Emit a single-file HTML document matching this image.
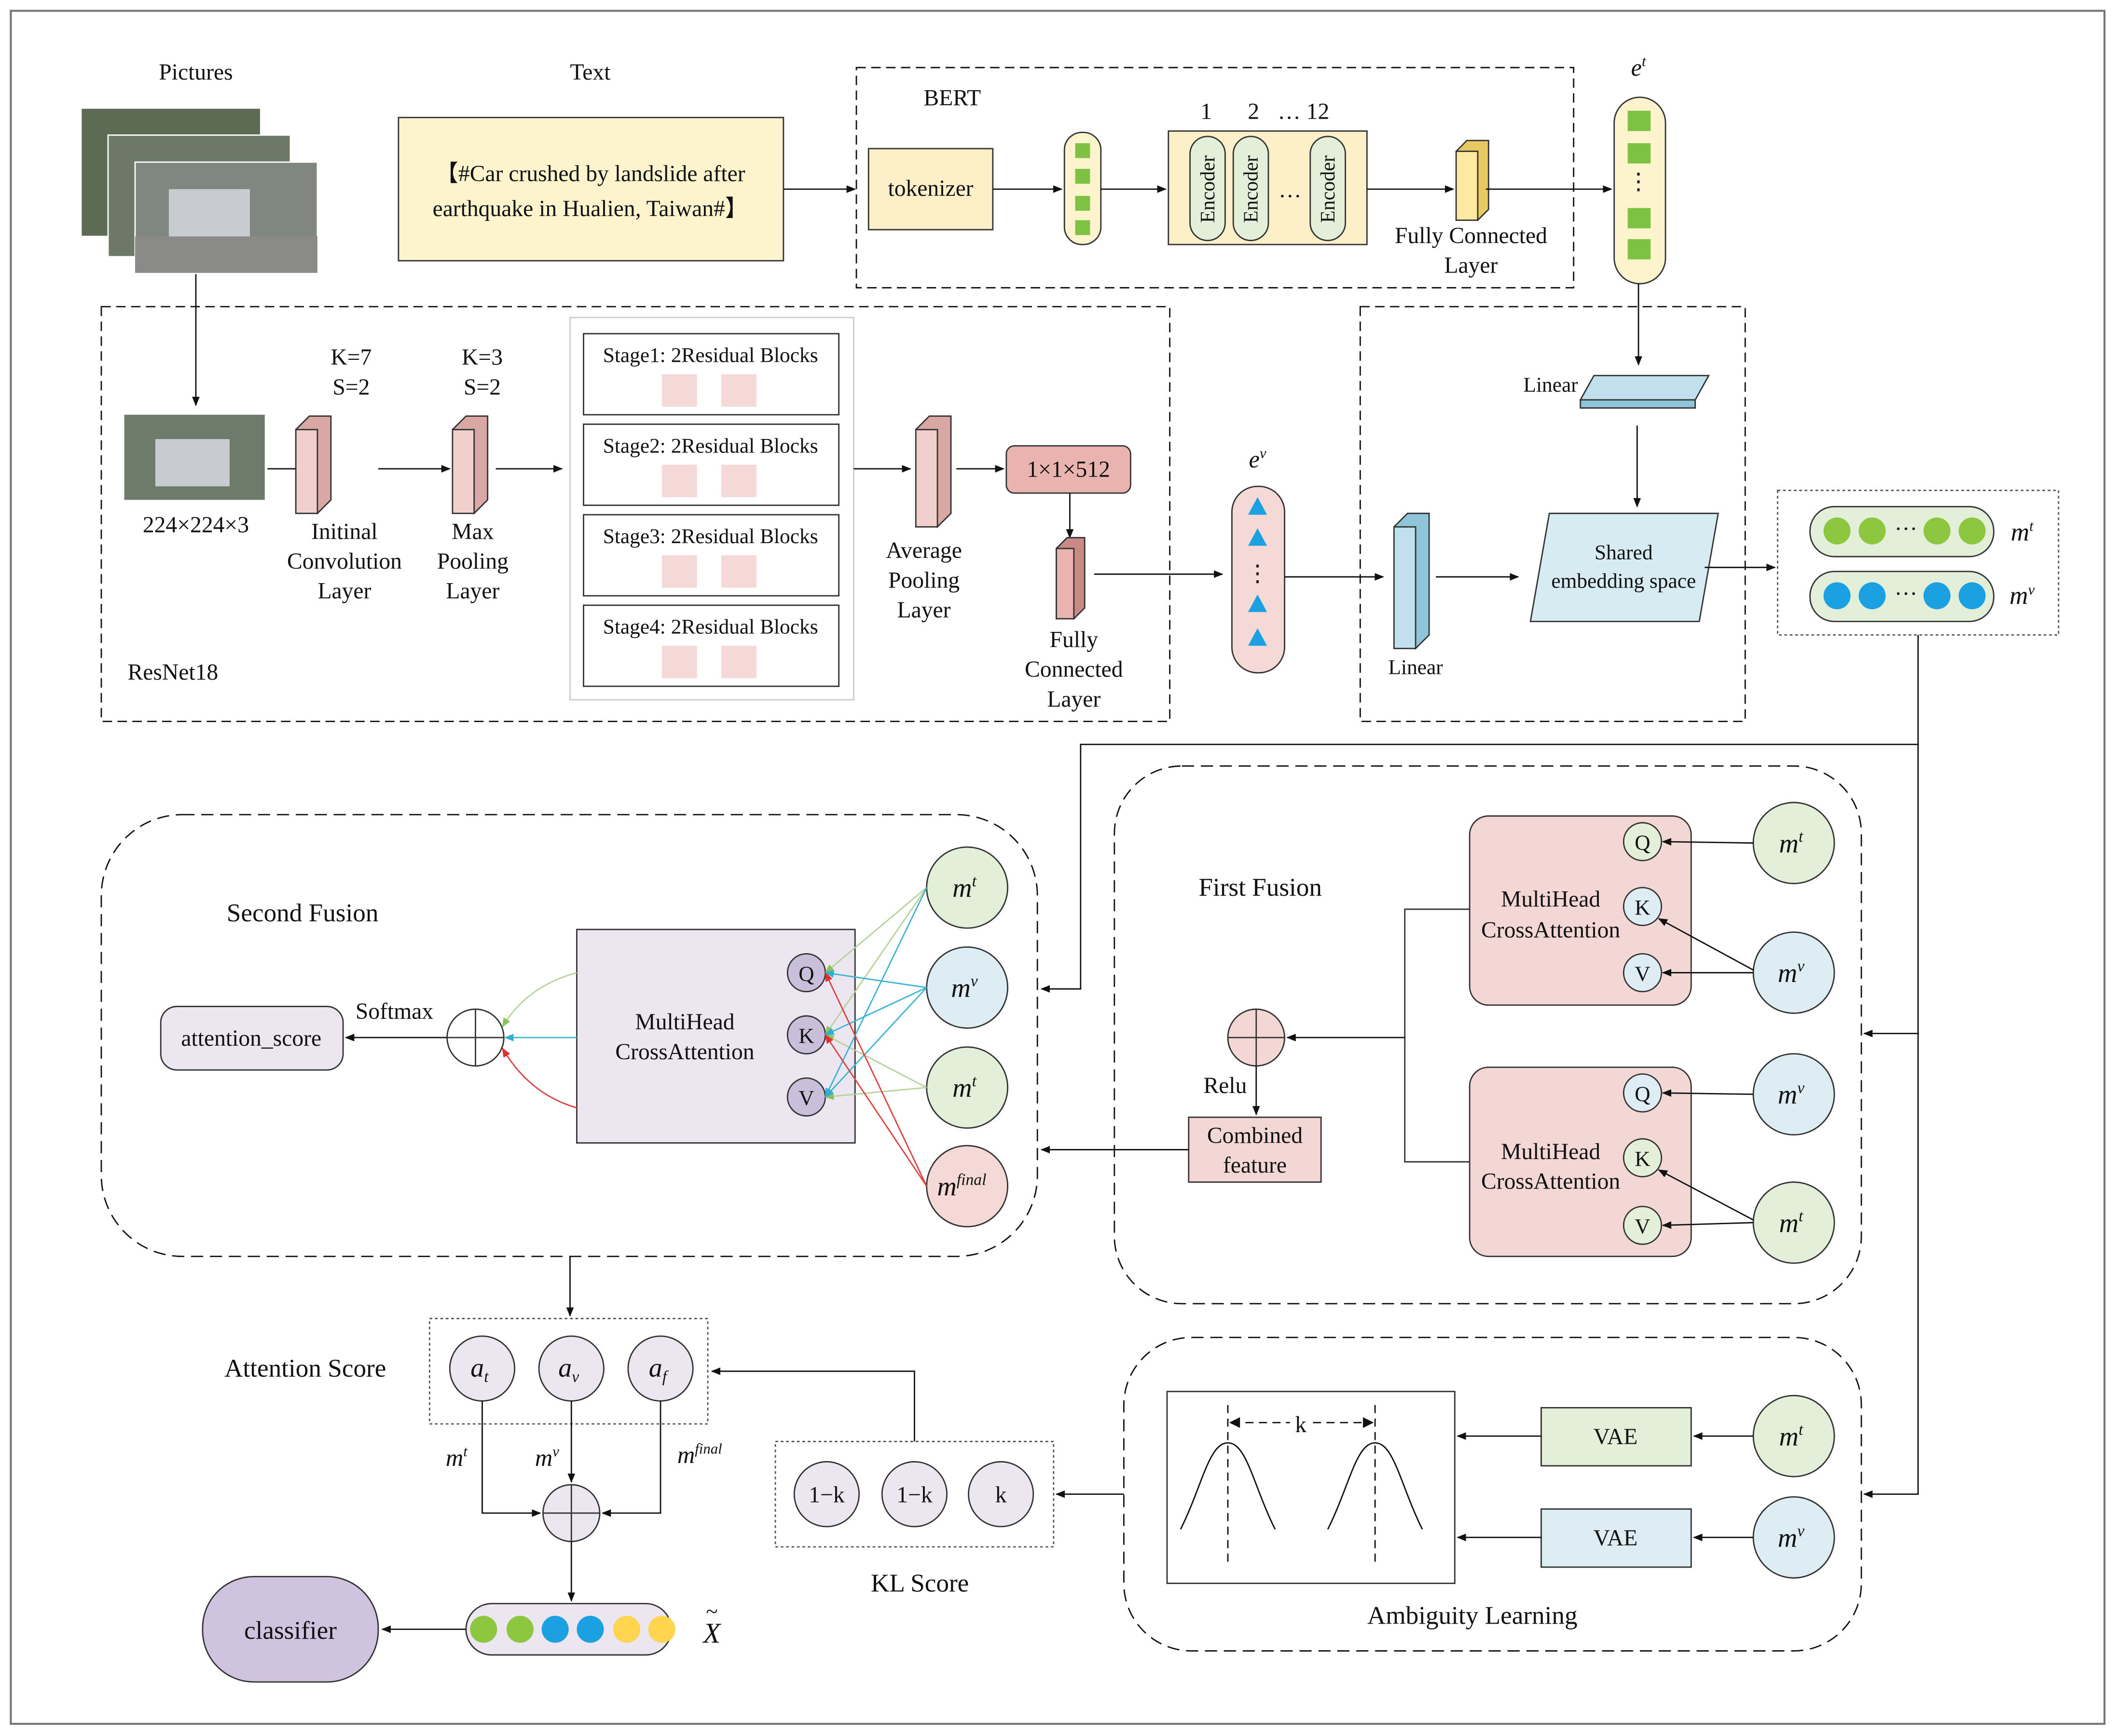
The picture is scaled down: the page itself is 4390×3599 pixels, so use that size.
<!DOCTYPE html>
<html><head><meta charset="utf-8"><style>
html,body{margin:0;padding:0;background:#fff}
svg{display:block}
text{font-family:"Liberation Serif",serif;fill:#111}
</style></head><body>
<svg width="4390" height="3599" viewBox="0 0 1568 1285" preserveAspectRatio="none" xmlns="http://www.w3.org/2000/svg">
<defs>
<marker id="a" viewBox="0 0 10 10" refX="9" refY="5" markerWidth="7" markerHeight="7" orient="auto"><path d="M0,1 L10,5 L0,9 z" fill="#111"/></marker>
<marker id="ar" viewBox="0 0 10 10" refX="9" refY="5" markerWidth="7" markerHeight="7" orient="auto"><path d="M0,1 L10,5 L0,9 z" fill="#e03030"/></marker>
<marker id="ab" viewBox="0 0 10 10" refX="9" refY="5" markerWidth="7" markerHeight="7" orient="auto"><path d="M0,1 L10,5 L0,9 z" fill="#30b0d0"/></marker>
<marker id="ag" viewBox="0 0 10 10" refX="9" refY="5" markerWidth="7" markerHeight="7" orient="auto"><path d="M0,1 L10,5 L0,9 z" fill="#8fc060"/></marker>
</defs>
<g font-size="17" text-anchor="middle">
<rect x="8" y="8" width="1550" height="1268" fill="#fff" stroke="#777" stroke-width="1.5"/>

<!-- pictures -->
<text x="145" y="59">Pictures</text>
<rect x="60" y="80" width="133" height="95" fill="#5d6b55" stroke="#fff"/>
<rect x="80" y="100" width="135" height="90" fill="#6e7868" stroke="#fff"/>
<rect x="100" y="120" width="135" height="82" fill="#7f8780" stroke="#fff"/>
<rect x="125" y="140" width="60" height="40" fill="#c8ccd0"/>
<rect x="100" y="175" width="135" height="27" fill="#8a8a88"/>
<line x1="145" y1="203" x2="145" y2="300" stroke="#111" marker-end="url(#a)"/>

<!-- text -->
<text x="437" y="59">Text</text>
<rect x="295" y="87" width="285" height="106" fill="#fdf3cc" stroke="#333"/>
<text x="437" y="134">【#Car crushed by landslide after</text>
<text x="437" y="160">earthquake in Hualien, Taiwan#】</text>
<line x1="580" y1="140" x2="633" y2="140" stroke="#111" marker-end="url(#a)"/>

<!-- BERT -->
<rect x="634" y="50" width="531" height="163" fill="none" stroke="#111" stroke-dasharray="7,4"/>
<text x="705" y="78">BERT</text>
<rect x="643" y="110" width="92" height="60" fill="#fdf0c8" stroke="#333"/>
<text x="689" y="145">tokenizer</text>
<line x1="735" y1="140" x2="786" y2="140" stroke="#111" marker-end="url(#a)"/>
<rect x="788" y="98" width="27" height="83" rx="13" fill="#fdf3cc" stroke="#333"/>
<g fill="#7dc242"><rect x="796" y="106" width="11" height="11"/><rect x="796" y="125" width="11" height="11"/><rect x="796" y="145" width="11" height="11"/><rect x="796" y="163" width="11" height="11"/></g>
<line x1="815" y1="140" x2="863" y2="140" stroke="#111" marker-end="url(#a)"/>
<rect x="865" y="97" width="147" height="84" fill="#fdf0c8" stroke="#333"/>
<g fill="#e3efd9" stroke="#333"><rect x="881" y="101" width="26" height="77" rx="13"/><rect x="913" y="101" width="26" height="77" rx="13"/><rect x="970" y="101" width="26" height="77" rx="13"/></g>
<text transform="translate(899,140) rotate(-90)" font-size="15">Encoder</text>
<text transform="translate(931,140) rotate(-90)" font-size="15">Encoder</text>
<text transform="translate(988,140) rotate(-90)" font-size="15">Encoder</text>
<text x="955" y="146">…</text>
<text x="893" y="88">1</text><text x="928" y="88">2</text><text x="965" y="88">… 12</text>
<line x1="1012" y1="140" x2="1076" y2="140" stroke="#111" marker-end="url(#a)"/>
<path d="M1078,112 l8,-8 l16,0 l0,51 l-8,8 z" fill="#e8c860" stroke="#333"/>
<rect x="1078" y="112" width="16" height="51" fill="#fde9a0" stroke="#333"/>
<text x="1089" y="180">Fully Connected</text><text x="1089" y="202">Layer</text>
<line x1="1100" y1="140" x2="1193" y2="140" stroke="#111" marker-end="url(#a)"/>
<rect x="1195" y="72" width="38" height="138" rx="19" fill="#fdf3cc" stroke="#333"/>
<g fill="#7dc242"><rect x="1205" y="82" width="17" height="15"/><rect x="1205" y="106" width="17" height="15"/><rect x="1205" y="154" width="17" height="15"/><rect x="1205" y="177" width="17" height="15"/></g>
<text x="1213" y="140">⋮</text>
<text x="1213" y="56" font-style="italic" font-size="18">e<tspan dy="-7" font-size="11">t</tspan></text>

<!-- ResNet -->
<rect x="75" y="227" width="791" height="307" fill="none" stroke="#111" stroke-dasharray="7,4"/>
<rect x="92" y="307" width="104" height="63" fill="#6f7b6a"/>
<rect x="115" y="325" width="55" height="35" fill="#c8ccd0"/>
<text x="145" y="394">224×224×3</text>
<line x1="198" y1="347" x2="243" y2="347" stroke="#111" marker-end="url(#a)"/>
<path d="M219,318 l10,-10 l16,0 l0,62 l-10,10 z" fill="#d9a8a5" stroke="#333"/>
<rect x="219" y="318" width="16" height="62" fill="#f0cfcc" stroke="#333"/>
<text x="260" y="270">K=7</text><text x="260" y="292">S=2</text>
<text x="255" y="399">Initinal</text><text x="255" y="421">Convolution</text><text x="255" y="443">Layer</text>
<line x1="280" y1="347" x2="333" y2="347" stroke="#111" marker-end="url(#a)"/>
<path d="M335,318 l10,-10 l16,0 l0,62 l-10,10 z" fill="#d9a8a5" stroke="#333"/>
<rect x="335" y="318" width="16" height="62" fill="#f0cfcc" stroke="#333"/>
<text x="357" y="270">K=3</text><text x="357" y="292">S=2</text>
<text x="350" y="399">Max</text><text x="350" y="421">Pooling</text><text x="350" y="443">Layer</text>
<line x1="367" y1="347" x2="416" y2="347" stroke="#111" marker-end="url(#a)"/>
<rect x="422" y="235" width="210" height="283" fill="none" stroke="#ccc"/>
<g fill="#fff" stroke="#333"><rect x="432" y="247" width="189" height="60"/><rect x="432" y="314" width="189" height="60"/><rect x="432" y="381" width="189" height="60"/><rect x="432" y="448" width="189" height="60"/></g>
<g fill="#f5d9d7"><rect x="490" y="277" width="26" height="24"/><rect x="534" y="277" width="26" height="24"/><rect x="490" y="344" width="26" height="24"/><rect x="534" y="344" width="26" height="24"/><rect x="490" y="411" width="26" height="24"/><rect x="534" y="411" width="26" height="24"/><rect x="490" y="478" width="26" height="24"/><rect x="534" y="478" width="26" height="24"/></g>
<g font-size="15.5"><text x="526" y="268">Stage1: 2Residual Blocks</text><text x="526" y="335">Stage2: 2Residual Blocks</text><text x="526" y="402">Stage3: 2Residual Blocks</text><text x="526" y="469">Stage4: 2Residual Blocks</text></g>
<line x1="632" y1="347" x2="674" y2="347" stroke="#111" marker-end="url(#a)"/>
<path d="M678,318 l10,-10 l16,0 l0,72 l-10,10 z" fill="#d9a8a5" stroke="#333"/>
<rect x="678" y="318" width="16" height="72" fill="#f0cfcc" stroke="#333"/>
<text x="684" y="413">Average</text><text x="684" y="435">Pooling</text><text x="684" y="457">Layer</text>
<line x1="708" y1="347" x2="743" y2="347" stroke="#111" marker-end="url(#a)"/>
<rect x="745" y="330" width="92" height="35" rx="6" fill="#e9b4b0" stroke="#333"/>
<text x="791" y="353">1×1×512</text>
<line x1="792" y1="365" x2="792" y2="398" stroke="#111" marker-end="url(#a)"/>
<path d="M782,406 l8,-8 l13,0 l0,52 l-8,8 z" fill="#c98a86" stroke="#333"/>
<rect x="782" y="406" width="13" height="52" fill="#e9b4b0" stroke="#333"/>
<text x="795" y="479">Fully</text><text x="795" y="501">Connected</text><text x="795" y="523">Layer</text>
<line x1="810" y1="425" x2="905" y2="425" stroke="#111" marker-end="url(#a)"/>
<text x="128" y="503">ResNet18</text>
<rect x="912" y="360" width="39" height="138" rx="19" fill="#f5d9d7" stroke="#333"/>
<g fill="#1ba1e2"><path d="M931,368 l7,13 l-14,0 z"/><path d="M931,391 l7,13 l-14,0 z"/><path d="M931,440 l7,13 l-14,0 z"/><path d="M931,465 l7,13 l-14,0 z"/></g>
<text x="931" y="430">⋮</text>
<text x="931" y="346" font-style="italic" font-size="18">e<tspan dy="-7" font-size="11">v</tspan></text>
<line x1="951" y1="427" x2="1024" y2="427" stroke="#111" marker-end="url(#a)"/>

<!-- shared -->
<rect x="1007" y="227" width="285" height="307" fill="none" stroke="#111" stroke-dasharray="7,4"/>
<line x1="1213" y1="210" x2="1213" y2="270" stroke="#111" marker-end="url(#a)"/>
<path d="M1180,278 L1265,278 L1255,296 L1170,296 z" fill="#bfe0ec" stroke="#333"/>
<path d="M1170,296 L1255,296 L1255,302 L1170,302 z" fill="#8ec5d8" stroke="#333"/>
<text x="1148" y="290" font-size="15.5">Linear</text>
<line x1="1212" y1="315" x2="1212" y2="375" stroke="#111" marker-end="url(#a)"/>
<path d="M1147,380 L1272,380 L1258,460 L1133,460 z" fill="#d6ebf2" stroke="#333"/>
<text x="1202" y="414" font-size="15.5">Shared</text><text x="1202" y="435" font-size="15.5">embedding space</text>
<path d="M1032,390 l10,-10 l16,0 l0,90 l-10,10 z" fill="#8ec5d8" stroke="#333"/>
<rect x="1032" y="390" width="16" height="90" fill="#bfe0ec" stroke="#333"/>
<text x="1048" y="499" font-size="15.5">Linear</text>
<line x1="1063" y1="427" x2="1124" y2="427" stroke="#111" marker-end="url(#a)"/>
<line x1="1262" y1="420" x2="1314" y2="420" stroke="#111" marker-end="url(#a)"/>
<rect x="1316" y="363" width="208" height="107" fill="none" stroke="#555" stroke-dasharray="2,2"/>
<rect x="1340" y="375" width="136" height="37" rx="18" fill="#e3efd9" stroke="#333"/>
<g fill="#8dc63f"><circle cx="1360" cy="393" r="10"/><circle cx="1386" cy="393" r="10"/><circle cx="1434" cy="393" r="10"/><circle cx="1460" cy="393" r="10"/></g>
<text x="1411" y="397">···</text>
<rect x="1340" y="423" width="136" height="37" rx="18" fill="#e3efd9" stroke="#333"/>
<g fill="#1ba1e2"><circle cx="1360" cy="441" r="10"/><circle cx="1386" cy="441" r="10"/><circle cx="1434" cy="441" r="10"/><circle cx="1460" cy="441" r="10"/></g>
<text x="1411" y="445">···</text>
<text x="1497" y="400" font-style="italic" font-size="19">m<tspan dy="-7" font-size="11">t</tspan></text>
<text x="1497" y="447" font-style="italic" font-size="19">m<tspan dy="-7" font-size="11">v</tspan></text>

<!-- connectors right side -->
<polyline points="1420,470 1420,1106 1380,1106" fill="none" stroke="#111" marker-end="url(#a)"/>
<line x1="1420" y1="765" x2="1380" y2="765" stroke="#111" marker-end="url(#a)"/>
<polyline points="1420,551 800,551 800,732 771,732" fill="none" stroke="#111" marker-end="url(#a)"/>

<!-- First Fusion -->
<rect x="825" y="567" width="553" height="398" rx="50" fill="none" stroke="#111" stroke-dasharray="9,5"/>
<text x="933" y="663" font-size="19">First Fusion</text>
<rect x="1088" y="604" width="164" height="140" rx="14" fill="#f2d7d5" stroke="#333"/>
<text x="1148" y="671">MultiHead</text><text x="1148" y="694">CrossAttention</text>
<rect x="1088" y="790" width="164" height="140" rx="14" fill="#f2d7d5" stroke="#333"/>
<text x="1148" y="858">MultiHead</text><text x="1148" y="880">CrossAttention</text>
<g stroke="#333">
<circle cx="1216" cy="623" r="14" fill="#e3efd9"/><circle cx="1216" cy="671" r="14" fill="#ddedf3"/><circle cx="1216" cy="720" r="14" fill="#ddedf3"/>
<circle cx="1216" cy="809" r="14" fill="#ddedf3"/><circle cx="1216" cy="857" r="14" fill="#e3efd9"/><circle cx="1216" cy="907" r="14" fill="#e3efd9"/>
<circle cx="1328" cy="624" r="30" fill="#e3efd9"/><circle cx="1328" cy="720" r="30" fill="#ddedf3"/>
<circle cx="1328" cy="810" r="30" fill="#ddedf3"/><circle cx="1328" cy="905" r="30" fill="#e3efd9"/>
</g>
<g font-size="16"><text x="1216" y="629">Q</text><text x="1216" y="677">K</text><text x="1216" y="726">V</text><text x="1216" y="815">Q</text><text x="1216" y="863">K</text><text x="1216" y="913">V</text></g>
<g font-style="italic" font-size="20"><text x="1326" y="631">m<tspan dy="-8" font-size="12">t</tspan></text><text x="1326" y="727">m<tspan dy="-8" font-size="12">v</tspan></text><text x="1326" y="817">m<tspan dy="-8" font-size="12">v</tspan></text><text x="1326" y="912">m<tspan dy="-8" font-size="12">t</tspan></text></g>
<g stroke="#111" marker-end="url(#a)">
<line x1="1298" y1="624" x2="1231" y2="623"/><line x1="1298" y1="720" x2="1231" y2="720"/><line x1="1298" y1="718" x2="1228" y2="680"/>
<line x1="1298" y1="810" x2="1231" y2="809"/><line x1="1298" y1="905" x2="1231" y2="907"/><line x1="1298" y1="903" x2="1228" y2="866"/>
</g>
<polyline points="1088,673 1040,673 1040,860 1088,860" fill="none" stroke="#333"/>
<line x1="1040" y1="768" x2="953" y2="768" stroke="#111" marker-end="url(#a)"/>
<circle cx="930" cy="768" r="21" fill="#f2d7d5" stroke="#333"/>
<path d="M909,768 h42 M930,747 v42" stroke="#333"/>
<text x="907" y="809">Relu</text>
<line x1="930" y1="789" x2="930" y2="825" stroke="#111" marker-end="url(#a)"/>
<rect x="880" y="827" width="98" height="48" fill="#f2d7d5" stroke="#333"/>
<text x="929" y="846">Combined</text><text x="929" y="868">feature</text>
<line x1="880" y1="851" x2="771" y2="851" stroke="#111" marker-end="url(#a)"/>

<!-- Second Fusion -->
<rect x="75" y="603" width="693" height="327" rx="60" fill="none" stroke="#111" stroke-dasharray="9,5"/>
<text x="224" y="682" font-size="19">Second Fusion</text>
<rect x="427" y="688" width="206" height="158" fill="#ebe6ef" stroke="#333"/>
<text x="507" y="762">MultiHead</text><text x="507" y="784">CrossAttention</text>
<g stroke="#333">
<circle cx="597" cy="720" r="14" fill="#c9bfdb"/><circle cx="597" cy="766" r="14" fill="#c9bfdb"/><circle cx="597" cy="812" r="14" fill="#c9bfdb"/>
<circle cx="716" cy="657" r="30" fill="#e3efd9"/><circle cx="716" cy="731" r="30" fill="#ddedf3"/><circle cx="716" cy="805" r="30" fill="#e3efd9"/><circle cx="716" cy="878" r="30" fill="#f5d9d7"/>
</g>
<g font-size="16"><text x="597" y="726">Q</text><text x="597" y="772">K</text><text x="597" y="818">V</text></g>
<g font-style="italic" font-size="20"><text x="714" y="664">m<tspan dy="-8" font-size="12">t</tspan></text><text x="714" y="738">m<tspan dy="-8" font-size="12">v</tspan></text><text x="714" y="812">m<tspan dy="-8" font-size="12">t</tspan></text><text x="712" y="885">m<tspan dy="-8" font-size="12">final</tspan></text></g>
<g stroke="#b5d29a" marker-end="url(#ag)"><line x1="686" y1="657" x2="611" y2="720"/><line x1="686" y1="805" x2="611" y2="766"/><line x1="686" y1="805" x2="611" y2="812"/><line x1="686" y1="657" x2="611" y2="766"/></g>
<g stroke="#3cb4d4" marker-end="url(#ab)"><line x1="686" y1="731" x2="611" y2="720"/><line x1="686" y1="731" x2="611" y2="766"/><line x1="686" y1="731" x2="611" y2="812"/><line x1="686" y1="657" x2="611" y2="812"/></g>
<g stroke="#e04040" marker-end="url(#ar)"><line x1="686" y1="878" x2="611" y2="720"/><line x1="686" y1="878" x2="611" y2="766"/></g>
<path d="M427,720 Q390,730 372,760" fill="none" stroke="#b5d29a" marker-end="url(#ag)"/>
<line x1="427" y1="768" x2="374" y2="768" stroke="#3cb4d4" marker-end="url(#ab)"/>
<path d="M427,820 Q392,810 372,776" fill="none" stroke="#e04040" marker-end="url(#ar)"/>
<circle cx="352" cy="768" r="21" fill="#fff" stroke="#333"/>
<path d="M331,768 h42 M352,747 v42" stroke="#333"/>
<text x="292" y="754">Softmax</text>
<line x1="331" y1="768" x2="256" y2="768" stroke="#111" marker-end="url(#a)"/>
<rect x="119" y="745" width="135" height="47" rx="12" fill="#ebe6ef" stroke="#333"/>
<text x="186" y="774">attention_score</text>

<!-- Attention score -->
<line x1="422" y1="930" x2="422" y2="974" stroke="#111" marker-end="url(#a)"/>
<rect x="318" y="976" width="206" height="78" fill="none" stroke="#555" stroke-dasharray="2,2"/>
<text x="226" y="1019" font-size="19">Attention Score</text>
<g fill="#ebe6ef" stroke="#333"><circle cx="357" cy="1013" r="24"/><circle cx="423" cy="1013" r="24"/><circle cx="489" cy="1013" r="24"/></g>
<g font-style="italic" font-size="20"><text x="355" y="1019">a<tspan dy="4" font-size="12">t</tspan></text><text x="421" y="1019">a<tspan dy="4" font-size="12">v</tspan></text><text x="487" y="1019">a<tspan dy="4" font-size="12">f</tspan></text></g>
<polyline points="357,1037 357,1120 400,1120" fill="none" stroke="#111" marker-end="url(#a)"/>
<line x1="423" y1="1037" x2="423" y2="1097" stroke="#111" marker-end="url(#a)"/>
<polyline points="489,1037 489,1120 446,1120" fill="none" stroke="#111" marker-end="url(#a)"/>
<g font-style="italic" font-size="18"><text x="338" y="1085">m<tspan dy="-7" font-size="11">t</tspan></text><text x="405" y="1085">m<tspan dy="-7" font-size="11">v</tspan></text><text x="518" y="1083">m<tspan dy="-7" font-size="11">final</tspan></text></g>
<circle cx="423" cy="1120" r="21" fill="#ebe6ef" stroke="#333"/>
<path d="M402,1120 h42 M423,1099 v42" stroke="#333"/>
<line x1="423" y1="1141" x2="423" y2="1185" stroke="#111" marker-end="url(#a)"/>
<rect x="345" y="1187" width="152" height="38" rx="19" fill="#ebe6ef" stroke="#333"/>
<circle cx="358" cy="1206" r="10" fill="#8dc63f"/><circle cx="385" cy="1206" r="10" fill="#8dc63f"/><circle cx="411" cy="1206" r="10" fill="#1ba1e2"/><circle cx="437" cy="1206" r="10" fill="#1ba1e2"/><circle cx="464" cy="1206" r="10" fill="#ffd54f"/><circle cx="490" cy="1206" r="10" fill="#ffd54f"/>
<text x="527" y="1216" font-style="italic" font-size="21">X</text><text x="527" y="1198" font-size="16">~</text>
<line x1="345" y1="1206" x2="283" y2="1206" stroke="#111" marker-end="url(#a)"/>
<rect x="150" y="1167" width="130" height="78" rx="38" fill="#cfc3e0" stroke="#333"/>
<text x="215" y="1213" font-size="19">classifier</text>

<!-- KL -->
<rect x="574" y="1067" width="206" height="78" fill="none" stroke="#555" stroke-dasharray="2,2"/>
<g fill="#ebe6ef" stroke="#333"><circle cx="612" cy="1106" r="24"/><circle cx="677" cy="1106" r="24"/><circle cx="741" cy="1106" r="24"/></g>
<text x="612" y="1112">1−k</text><text x="677" y="1112">1−k</text><text x="741" y="1112">k</text>
<text x="681" y="1178" font-size="19">KL Score</text>
<polyline points="677,1067 677,1015 527,1015" fill="none" stroke="#111" marker-end="url(#a)"/>
<line x1="832" y1="1106" x2="782" y2="1106" stroke="#111" marker-end="url(#a)"/>

<!-- Ambiguity -->
<rect x="832" y="990" width="546" height="232" rx="50" fill="none" stroke="#111" stroke-dasharray="9,5"/>
<text x="1090" y="1202" font-size="19">Ambiguity Learning</text>
<rect x="864" y="1030" width="213" height="142" fill="#fff" stroke="#333"/>
<path d="M874,1132 C890,1100 895,1068 909,1068 C923,1068 928,1100 944,1132" fill="none" stroke="#111"/>
<path d="M983,1132 C999,1100 1004,1068 1018,1068 C1032,1068 1037,1100 1053,1132" fill="none" stroke="#111"/>
<line x1="909" y1="1040" x2="909" y2="1160" stroke="#111" stroke-dasharray="6,4"/>
<line x1="1018" y1="1040" x2="1018" y2="1160" stroke="#111" stroke-dasharray="6,4"/>
<line x1="912" y1="1053" x2="1015" y2="1053" stroke="#111" stroke-dasharray="6,4"/>
<path d="M910,1053 l8,-4 v8 z M1017,1053 l-8,-4 v8 z" fill="#111"/>
<rect x="955" y="1044" width="16" height="18" fill="#fff"/>
<text x="963" y="1060">k</text>
<rect x="1141" y="1042" width="111" height="43" fill="#e3efd9" stroke="#333"/>
<rect x="1141" y="1117" width="111" height="43" fill="#ddedf3" stroke="#333"/>
<text x="1196" y="1069">VAE</text><text x="1196" y="1144">VAE</text>
<circle cx="1328" cy="1063" r="30" fill="#e3efd9" stroke="#333"/><circle cx="1328" cy="1138" r="30" fill="#ddedf3" stroke="#333"/>
<g font-style="italic" font-size="20"><text x="1326" y="1070">m<tspan dy="-8" font-size="12">t</tspan></text><text x="1326" y="1145">m<tspan dy="-8" font-size="12">v</tspan></text></g>
<g stroke="#111" marker-end="url(#a)"><line x1="1298" y1="1063" x2="1254" y2="1063"/><line x1="1298" y1="1138" x2="1254" y2="1138"/><line x1="1141" y1="1063" x2="1079" y2="1063"/><line x1="1141" y1="1138" x2="1079" y2="1138"/></g>
</g>
</svg>
</body></html>
